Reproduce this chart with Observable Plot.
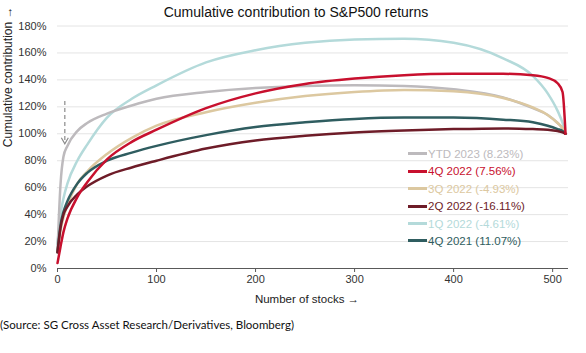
<!DOCTYPE html>
<html><head><meta charset="utf-8">
<script src="https://cdn.jsdelivr.net/npm/d3@7"></script>
<script src="https://cdn.jsdelivr.net/npm/@observablehq/plot@0.6"></script>
<style>
body{margin:0;background:#fff;font-family:"Liberation Sans",Arial,sans-serif;}
#wrap{position:relative;width:586px;}
#title{position:absolute;top:4px;left:0;width:586px;padding-left:6px;box-sizing:border-box;text-align:center;font-size:14px;line-height:16px;color:#111;}
#legend{position:absolute;left:408px;top:145.3px;}
.row{height:17.4px;display:flex;align-items:center;font-size:11.5px;white-space:nowrap;}
.sw{width:19px;height:3px;margin-right:1px;}
#src{font-family:Lato,"Open Sans",sans-serif;font-size:11.5px;margin-top:5px;line-height:16px;color:#111;}
</style></head><body>
<div id="wrap"><div id="title">Cumulative contribution to S&amp;P500 returns</div></div>
<div id="src">(Source: SG Cross Asset Research/Derivatives, Bloomberg)</div>
<script>
const stocks = [0,3,6,10,20,30,50,75,100,150,200,250,300,350,400,450,480,495,505,510,513];
const ytd2023 = [13,62,83,91,102,108,115,121,126,131,134,135.5,136,135.5,133,127,119,114,108,104,100];
const q4_2022 = [4,16,27,37,53,64,81,94,103,119,130,137,141,143.5,144.5,144.5,143.5,141.5,137.5,131,100];
const q3_2022 = [12,28,38,47,63,72,85,97,106,116,123,128,131,132.5,131.5,126.5,119.5,114,108,104,100];
const q2_2022 = [12,30,40,46,55,61,69,75,80,89,95,98.5,101,102.5,103.5,104,103.5,103,102,101,100];
const q1_2022 = [18,40,52,63,80,92,112,126,136,153,162,167.5,170,170.5,167.5,156,143,130,117,108,100];
const q4_2021 = [12,32,42,50,63,71,80,86,91,99,105,108.5,111,112,112,110.5,108.5,106,103.5,102,100];

const labels = ["YTD 2023 (8.23%)","4Q 2022 (7.56%)","3Q 2022 (-4.93%)","2Q 2022 (-16.11%)","1Q 2022 (-4.61%)","4Q 2021 (11.07%)"];
const colors = ["#bdbabd","#c8102e","#dcc8a0","#6e1c28","#b4dada","#2f5d60"];
const seriesValues = [ytd2023,q4_2022,q3_2022,q2_2022,q1_2022,q4_2021];
const drawOrder = [4,0,2,5,3,1];

const xTicks = [0,100,200,300,400,500];
const yTicks = [0,20,40,60,80,100,120,140,160,180];
const xLabel = "Number of stocks →";
const yLabel = "Cumulative contribution →";

const arrowX = [7.4], arrowFrom = 124, arrowTo = 92.6;

const chevron = {draw(ctx){ ctx.moveTo(-3.5,-6); ctx.lineTo(0,0); ctx.lineTo(3.5,-6); }};

const data = drawOrder.flatMap(i => stocks.map((n,j) => ({n, v: seriesValues[i][j], key: labels[i]})));

const chart = Plot.plot({
  width:586, height:312,
  marginLeft:57, marginRight:18, marginTop:25.5, marginBottom:44,
  style:{fontFamily:"'Liberation Sans', Arial, sans-serif", fontSize:"11px", color:"#333", background:"#fff"},
  x:{domain:[0,516]},
  y:{domain:[0,180]},
  color:{domain:labels, range:colors},
  marks:[
    Plot.gridY(yTicks, {stroke:"#e4e4e4", strokeOpacity:1}),
    Plot.axisY(yTicks, {tickSize:0, tickPadding:11, tickFormat:d=>d+"%", label:null, fill:"#333"}),
    Plot.axisX(xTicks, {tickSize:4, tickPadding:3, label:null, stroke:"#595959", fill:"#333"}),
    Plot.ruleY([0], {stroke:"#595959"}),
    Plot.text([yLabel], {frameAnchor:"left", rotate:-90, dx:-49, fontSize:12, fill:"#222"}),
    Plot.text([xLabel], {frameAnchor:"bottom", dy:34, dx:-6, fontSize:11.5, fill:"#222"}),
    Plot.ruleX(arrowX, {y1:arrowFrom, y2:arrowTo + 1.5, stroke:"#8a8a8a", strokeWidth:1.2, strokeDasharray:"4,3"}),
    Plot.dot(arrowX, {x:d=>d, y:arrowTo, symbol:chevron, stroke:"#8a8a8a", fill:"none", strokeWidth:1.2}),
    Plot.line(data, {x:"n", y:"v", z:"key", stroke:"key", curve:"monotone-x", strokeWidth:2.5})
  ]
});
const wrap = document.getElementById("wrap");
wrap.insertBefore(chart, wrap.firstChild);
const legend = document.createElement("div");
legend.id = "legend";
labels.forEach((l,i) => {
  const r = document.createElement("div"); r.className = "row"; r.style.color = colors[i];
  const s = document.createElement("div"); s.className = "sw"; s.style.background = colors[i];
  r.appendChild(s); r.appendChild(document.createTextNode(l));
  legend.appendChild(r);
});
wrap.appendChild(legend);
</script>
</body></html>
